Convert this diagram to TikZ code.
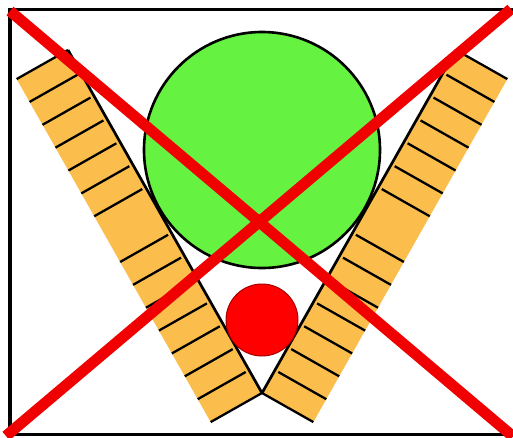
\documentclass[tikz,border=0pt]{standalone}
\usetikzlibrary{calc}
\definecolor{bandorange}{RGB}{251,190,76}
\definecolor{ballgreen}{RGB}{102,242,64}
\definecolor{xred}{RGB}{240,0,0}
\begin{document}
\begin{tikzpicture}[x=1pt,y=-1pt,
  band/.style={fill=bandorange},
  hatch/.style={draw=black,line width=2.3pt},
  inneredge/.style={draw=black,line width=2.7pt},
  frame/.style={draw=black,line width=3.6pt},
  bigball/.style={draw=black,line width=2.6pt,fill=ballgreen},
  smallball/.style={draw=red!65!black,line width=1pt,fill=red},
  cross/.style={draw=xred,line width=11pt}]
\useasboundingbox (0,0) rectangle (513,437);
\clip (0,0) rectangle (513,437);
\fill[white] (0,0) rectangle (513,437);
% frame
\draw[frame] (10,9.5) rectangle (540,434.5);
% left band
\coordinate (LA) at (68,50);
\coordinate (LB) at (262,393);
\coordinate (LAo) at (16.65,79.05);
\coordinate (LBo) at (210.65,422.05);
\fill[band] (LA) -- (LB) -- (LBo) -- (LAo) -- cycle;
\foreach \i in {1,2,3,4,5,6,8,9,10,11,12,13,14}
  \draw[hatch] ($(LAo)!{\i/15}!(LBo)$) -- ++(48,-27.2);
\draw[hatch] (LAo) -- (LA);
\draw[hatch] (LBo) -- (LB);
\draw[inneredge] (LA) -- (LB);
% right band
\coordinate (RA) at (456,50);
\coordinate (RB) at (262,393);
\coordinate (RAo) at (507.35,79.05);
\coordinate (RBo) at (313.35,422.05);
\fill[band] (RA) -- (RB) -- (RBo) -- (RAo) -- cycle;
\foreach \i in {1,2,3,4,5,6,8,9,10,11,12,13,14}
  \draw[hatch] ($(RAo)!{\i/15}!(RBo)$) -- ++(-48,-27.2);
\draw[hatch] (RAo) -- (RA);
\draw[hatch] (RBo) -- (RB);
\draw[inneredge] (RA) -- (RB);
% balls
\draw[bigball] (262,150) circle[radius=118pt];
\draw[smallball] (262,320) circle[radius=36pt];
% red cross
\draw[cross] (10,11) -- (513,436.5);
\draw[cross] (511,9) -- (6,436);
\end{tikzpicture}
\end{document}
